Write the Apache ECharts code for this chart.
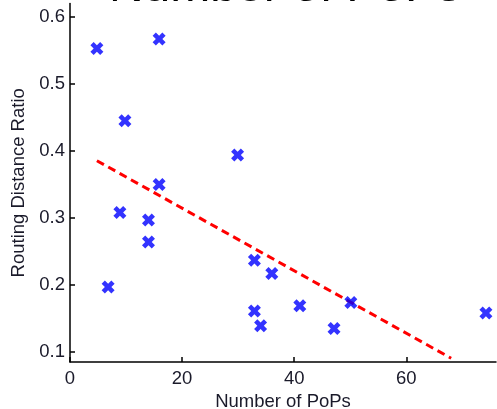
<!DOCTYPE html>
<html>
<head>
<meta charset="utf-8">
<script src="https://cdn.jsdelivr.net/npm/echarts@6/dist/echarts.min.js"></script>
<style>
  html, body { margin: 0; padding: 0; background: #fff; }
  #chart { width: 497px; height: 409px; }
</style>
</head>
<body>
<div id="chart"></div>
<script>
// number of PoPs per network
const pops = [4.8, 15.9, 9.8, 29.9, 15.9, 8.9, 14.0, 14.0, 6.8, 32.9, 36.0, 32.9, 34.0, 41.0, 47.1, 50.1, 74.2]
// routing distance ratio per network
const ratio = [0.553, 0.567, 0.445, 0.394, 0.350, 0.308, 0.297, 0.264, 0.197, 0.237, 0.217, 0.161, 0.139, 0.169, 0.135, 0.174, 0.158]
// fitted trend line, end points
const fitX = [4.8, 68]
const fitY = [0.3855, 0.0906]
const xTicks = [0, 20, 40, 60]
const yTicks = [0.1, 0.2, 0.3, 0.4, 0.5, 0.6]

const font = 'Liberation Sans, Arial, sans-serif'
const crossPath = 'path://M2.5,0 L5,2.5 L7.5,0 L10,2.5 L7.5,5 L10,7.5 L7.5,10 L5,7.5 L2.5,10 L0,7.5 L2.5,5 L0,2.5 Z'

const chart = echarts.init(document.getElementById('chart'))

const axisCommon = {
  axisLine: { show: true, onZero: false, lineStyle: { color: '#000', width: 1.5 } },
  axisTick: { show: true, inside: true, length: 5, lineStyle: { color: '#000', width: 1.5 } },
  splitLine: { show: false },
  nameLocation: 'middle'
}

chart.setOption({
  animation: false,
  // title is cut off by the top of the picture, only its lower edge shows
  graphic: [{
    type: 'text',
    z: 10,
    style: {
      text: 'Number of PoPs',
      x: 285,
      y: 12,
      align: 'center',
      verticalAlign: 'bottom',
      font: '48px ' + font,
      fill: '#000'
    }
  }],
  grid: { left: 70, right: 1, top: 3.6, bottom: 47, outerBoundsMode: 'none', containLabel: false },
  xAxis: {
    ...axisCommon,
    type: 'value',
    min: 0,
    max: 76,
    name: 'Number of PoPs',
    nameGap: 24,
    nameTextStyle: { fontFamily: font, fontSize: 18.5, color: '#1a1a2a' },
    axisTick: { ...axisCommon.axisTick, customValues: xTicks },
    axisLabel: { customValues: xTicks, fontFamily: font, fontSize: 18.5, color: '#1a1a2a', margin: 7 }
  },
  yAxis: {
    ...axisCommon,
    type: 'value',
    min: 0.085,
    max: 0.62,
    name: 'Routing Distance Ratio',
    nameGap: 41,
    nameTextStyle: { fontFamily: font, fontSize: 18.5, color: '#1a1a2a' },
    axisTick: { ...axisCommon.axisTick, customValues: yTicks },
    axisLabel: { customValues: yTicks, fontFamily: font, fontSize: 18.5, color: '#1a1a2a', margin: 5,
      formatter: v => v.toFixed(1) }
  },
  series: [
    {
      type: 'line',
      data: fitX.map((x, i) => [x, fitY[i]]),
      symbol: 'none',
      z: 1,
      lineStyle: { color: '#ff0000', width: 3, type: [8, 5] }
    },
    {
      type: 'scatter',
      data: pops.map((x, i) => [x, ratio[i]]),
      symbol: crossPath,
      symbolSize: 13,
      z: 2,
      itemStyle: { color: '#0000ff' }
    }
  ]
})
</script>
</body>
</html>
